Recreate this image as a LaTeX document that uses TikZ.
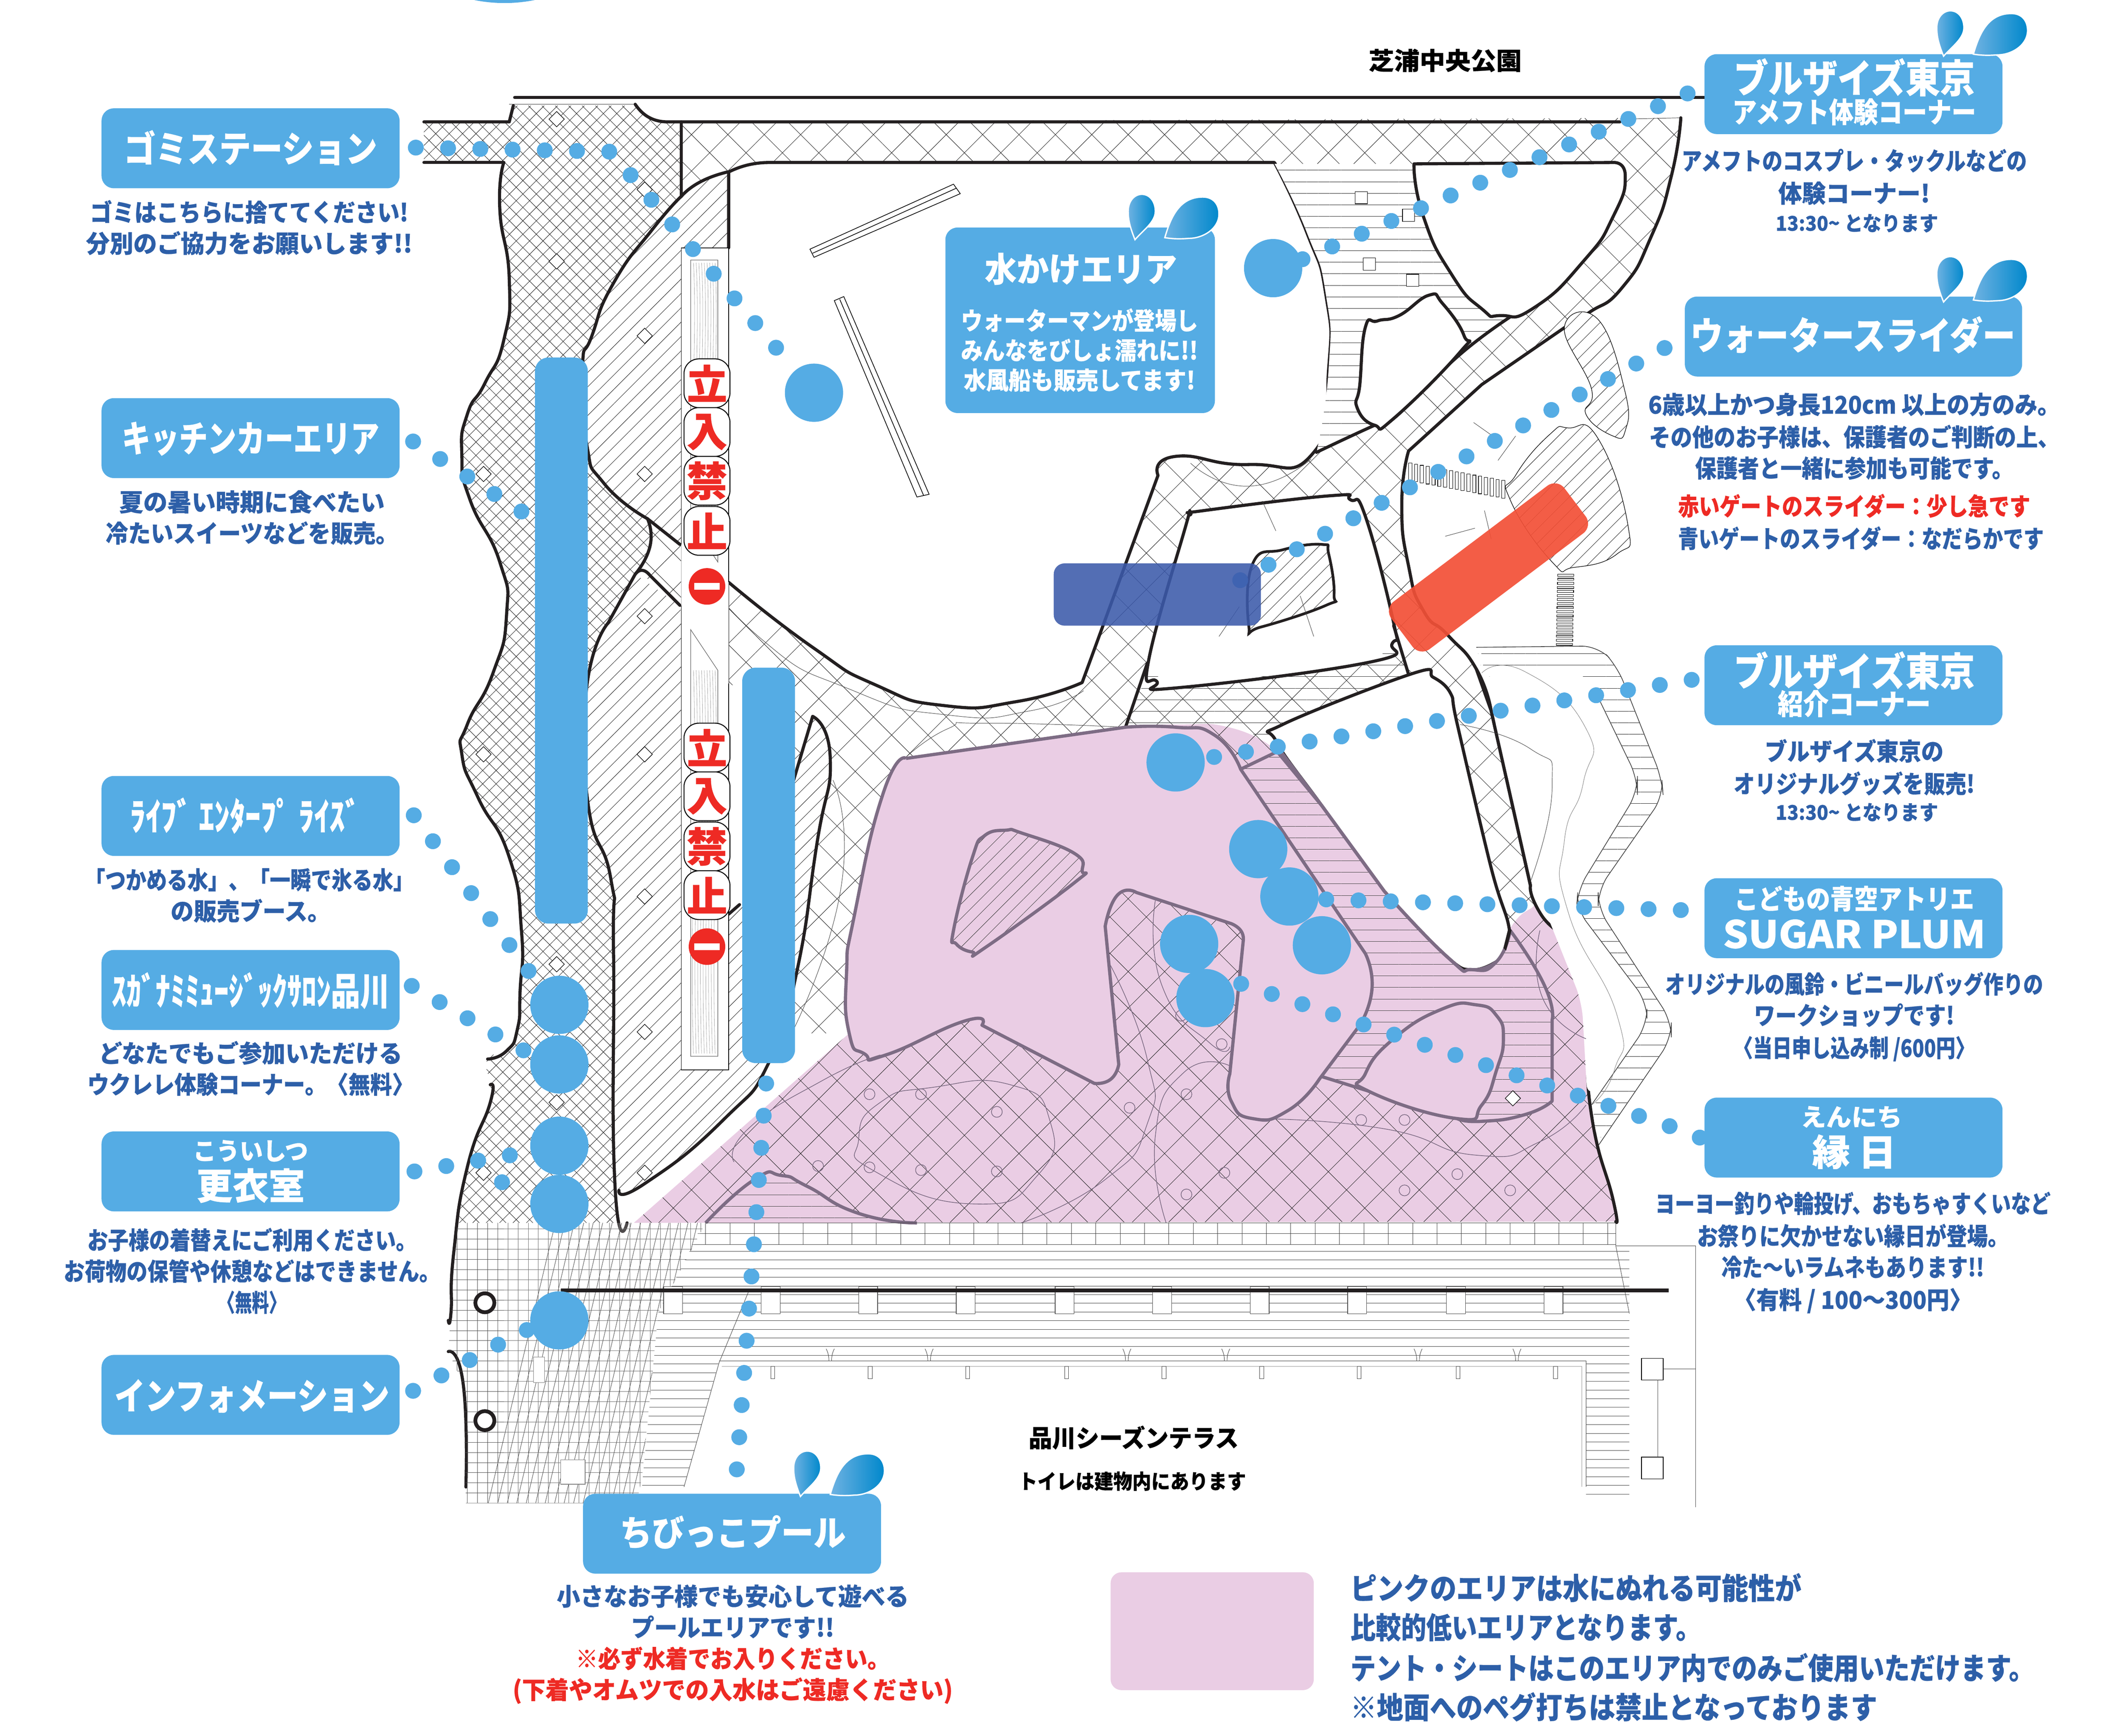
\documentclass[tikz,border=0pt]{standalone}
\usepackage{graphicx}
\usepackage{fontspec}
\setmainfont{Noto Sans CJK JP}[BoldFeatures={FakeBold=0.35}]
\usetikzlibrary{patterns.meta}
\definecolor{lblue}{HTML}{55ACE4}
\definecolor{ink}{HTML}{2D5FA8}
\definecolor{redt}{HTML}{EE2A24}
\definecolor{pinkz}{HTML}{EACDE4}
\definecolor{wallc}{HTML}{231F20}
\definecolor{pgray}{HTML}{7D6C84}
\definecolor{dropl}{HTML}{6FB2E2}
\definecolor{dropr}{HTML}{0088CC}
\newsavebox\tbx
\newcounter{tn}
\newcommand\tx[6][ink]{%
  \stepcounter{tn}%
  \node[inner sep=0,anchor=base,text=#1] (t\thetn) at (#2,{#3+0.36*#5}) {%
    \sbox\tbx{\fontsize{#5}{#5}\bfseries\selectfont #6}%
    \pgfmathsetmacro\myr{#4/\the\wd\tbx}%
    \scalebox{\myr}[1]{\usebox\tbx}};}
\tikzset{
  wall/.style={draw=wallc,line width=2.3pt,line join=round,line cap=round},
  pwall/.style={draw=pgray,line width=2.4pt,line join=round},
  thinl/.style={draw=black!75,line width=.3pt},
  thing/.style={draw=pgray,line width=.5pt},
  hwide/.style={pattern={Hatch[angle=45,distance=19pt,line width=.3pt]},pattern color=black!85},
  hdense/.style={preaction={fill=white},pattern={Hatch[angle=45,distance=7pt,line width=.3pt]},pattern color=black!85},
  hne/.style={preaction={fill=white},pattern={Lines[angle=45,distance=7.5pt,line width=.3pt]},pattern color=black!85},
  hhor/.style={preaction={fill=white},pattern={Lines[angle=0,distance=8.5pt,line width=.3pt]},pattern color=black!85},
  hhorp/.style={preaction={fill=pinkz},pattern={Lines[angle=0,distance=8.5pt,line width=.3pt]},pattern color=black!75},
  hnep/.style={preaction={fill=pinkz},pattern={Lines[angle=45,distance=7.5pt,line width=.3pt]},pattern color=black!75},
  lab/.style={fill=lblue,rounded corners=9pt,minimum width=220pt,minimum height=59pt,inner sep=0},
  bigc/.style={circle,fill=lblue,minimum size=43pt,inner sep=0},
  dotline/.style={draw=lblue,line width=11.7pt,line cap=round,dash pattern=on 0.01pt off 23.8pt},
  dia/.style={draw=black,fill=white,line width=.4pt,rotate=45,minimum size=8pt,inner sep=0},
  sq/.style={draw=black,fill=white,line width=.4pt,minimum size=9pt,inner sep=0},
  ring/.style={circle,draw=pgray,line width=.5pt,minimum size=8pt,inner sep=0},
  kbox/.style={draw=black,fill=white,line width=.7pt,rounded corners=11pt,minimum width=34pt,minimum height=36pt,inner sep=0,text=redt,font=\fontsize{30}{30}\bfseries\selectfont},
  noent/.style={circle,fill=redt,minimum size=27pt,inner sep=0},
  nobar/.style={fill=white,minimum width=19pt,minimum height=5pt,inner sep=0},
  drops/.pic={
    \path[left color=dropl,right color=dropr,draw=white,line width=1pt] (0,0) .. controls (-4,-10) and (-5,-15) .. (-5,-21) .. controls (-5,-29) and (0,-33.5) .. (5,-33.5) .. controls (11,-33.5) and (15,-28) .. (15,-21) .. controls (15,-13) and (6,-7) .. (0,0) -- cycle;
    \path[left color=dropl,right color=dropr,draw=white,line width=1pt] (22,-1.5) .. controls (26,-15) and (32,-31.5) .. (50,-31.5) .. controls (58,-31.5) and (62,-26) .. (62,-19) .. controls (62,-8) and (50,-1) .. (40,-1) .. controls (34,-.5) and (28,-.5) .. (22,-1.5) -- cycle;
  }
}
\begin{document}
\begin{tikzpicture}[x=1pt,y=-1pt]
\useasboundingbox (0,0) rectangle (1567.5,1281.7);
\fill[white] (0,0) rectangle (1567.5,1281.7);
\fill[lblue] (350,0) .. controls (365,3) and (380,3) .. (395,0) -- cycle;

% pink zone
\fill[pinkz] (468,903) -- (627,763) -- plot[smooth,tension=1] coordinates {(627,763)(625,719)(631,675)(652,586)(669,560)} -- (831,537) -- plot[smooth,tension=1] coordinates {(831,537)(868,535)(911,538)(943,555)} -- (976,595) -- (1022,658) -- plot[smooth,tension=1] coordinates {(1022,658)(1069,707)(1087,716)(1105,710)(1114,687)(1130,671)(1137,674)(1162,707)(1171,757)(1175,823)(1191,886)(1193,902)} -- cycle;

% wide hatched road
\path[hwide] (503,90) -- (1241,87) -- plot[smooth,tension=1] coordinates {(1241,87)(1234,130)(1219,175)(1198,212)(1173,231)(1155,242)} -- (1094,284) -- (1040,333) -- plot[smooth,tension=1] coordinates {(1040,333)(1035,372)(1040,418)(1051,451)(1069,469)(1090,494)(1101,525)} -- (1130,654) -- plot[smooth,tension=1] coordinates {(1130,654)(1137,674)(1162,707)(1171,757)(1175,823)(1191,886)(1193,902)} -- (468,903) -- (627,763) -- (586,763) -- (586,520) -- (538,505) -- (538,447) -- (502,447) -- (474,424) -- (469,424) -- (480,403) -- (478,383) -- (502,402) -- cycle;

% thin curves in the road
\draw[thinl] plot[smooth,tension=1] coordinates {(503,402)(560,470)(630,510)(700,528)(760,525)(800,510)};
\draw[thinl] plot[smooth,tension=1] coordinates {(879,342)(922,359)(968,339)};
\draw[thinl] plot[smooth,tension=1] coordinates {(669,559)(700,538)(727,534)(831,537)};
\draw[thinl] plot[smooth,tension=1] coordinates {(615,576)(621,655)(586,760)};

% dense left band
\path[hdense] (313,90) -- (376,90) -- (379,78) -- (469,78) .. controls (475,86) and (483,90) .. (493,90) -- (503,90) -- (503,145) -- plot[smooth,tension=1] coordinates {(503,145)(482,169)(453,209)(437,248)(430,272)(433,327)(446,357)(478,383)} -- plot[smooth,tension=1] coordinates {(478,383)(480,403)(469,424)} -- (449,460) -- plot[smooth,tension=1] coordinates {(449,460)(433,509)(434,592)(451,649)(453,703)(454,874)(463,903)} -- (338,903) -- plot[smooth,tension=1] coordinates {(338,903)(345,862)(362,814)(362,801)(360,782)(374,776)(382,760)(384,732)(385,687)(376,633)(353,589)(341,557)(345,535)(364,497)(374,454)(369,415)(347,369)(341,336)(345,306)(358,283)(372,251)(376,206)(369,154)(372,120)} -- (313,120) -- cycle;

% diagonal hatched region upper
\path[hne] (503,145) .. controls (512,135) and (525,130) .. (537,127) -- (538,183) -- (503,183) -- (503,402) -- (478,383) -- plot[smooth,tension=1] coordinates {(478,383)(446,357)(433,327)(430,272)(437,248)(453,209)(482,169)(503,145)} -- cycle;
% diagonal hatched region lower
\path[hne] (469,424) -- (502,447) -- (538,675) -- (546,668) -- (560,640) -- (586,576) -- (600,529) -- plot[smooth,tension=1] coordinates {(600,529)(613,560)(603,624)(588,719)(569,782)(534,827)(476,874)(457,879)} -- (454,874) -- plot[smooth,tension=1] coordinates {(454,874)(453,703)(451,649)(434,592)(433,509)(449,460)} -- cycle;

% upper garden
\path[fill=white,wall] (538,183) -- (538,127) .. controls (548,122) and (558,120) .. (568,120) -- (941,120) -- plot[smooth,tension=1] coordinates {(941,120)(965,172)(979,218)(981,272)(970,334)(922,343)(868,337)(855,351)} -- (799,504) -- plot[smooth,tension=1] coordinates {(799,504)(751,518)(697,521)(647,506)(600,478)(538,430)};

% horizontally hatched upper region
\path[hhor] (941,121) -- (1044,121) -- plot[smooth,tension=1] coordinates {(1044,121)(1051,160)(1072,203)(1094,228)(1119,233)} -- (1126,227) -- (1080,260) -- (1029,309) -- (1015,314) -- (972,334) -- plot[smooth,tension=1] coordinates {(972,334)(981,272)(979,218)(965,172)(941,121)} -- cycle;
\draw[wall] plot[smooth,tension=.8] coordinates {(1126,227)(1080,260)(1029,309)(1015,314)(972,334)};
% squares
\foreach \p [count=\i] in {{1005,146},{1040,159},{1011,195},{1043,207}} \node[sq] (s\i) at (\p) {};
% island
\path[fill=white,wall] plot[smooth cycle,tension=.85] coordinates {(1008,242)(1017,237)(1033,233)(1055,218)(1065,224)(1081,248)(1078,260)(1029,309)(1015,314)(1002,301)(1004,284)};
% upper right island
\path[fill=white,wall] (1044,121) -- (1191,120) -- plot[smooth,tension=1] coordinates {(1191,120)(1200,130)(1191,160)(1169,193)(1133,227)(1108,233)(1094,228)(1072,203)(1051,160)(1044,121)} -- cycle;

% top lines
\draw[wall] (380,72) -- (1259,72);
\draw[thinl] (376,77) -- (469,77);
\draw[wall] (469,77) .. controls (475,86) and (483,90) .. (493,90) -- (1196,90);
\draw[thinl] (1196,88) -- (1241,87);
\draw[wall] (313,90) -- (376,90) -- (379,78);
\draw[wall] (313,120) -- (372,120);
\draw[wall] (503,90) -- (503,145);
% left outer wall
\draw[wall] plot[smooth,tension=1] coordinates {(372,120)(369,154)(376,206)(372,251)(358,283)(345,306)(341,336)(347,369)(369,415)(374,454)(364,497)(345,535)(341,557)(353,589)(376,633)(385,687)(384,732)(382,760)(374,776)(360,782)};
\draw[wall] plot[smooth,tension=1] coordinates {(362,801)(362,814)(345,862)(335,925)(333,969)(331,975)};
\draw[wall] plot[smooth,tension=1] coordinates {(331,998)(342,1022)(344,1098)};
% inner band wall
\draw[wall] plot[smooth,tension=1] coordinates {(503,145)(482,169)(453,209)(437,248)(430,272)(433,327)(446,357)(478,383)} -- (502,402);
\draw[wall] plot[smooth,tension=1] coordinates {(478,383)(480,403)(469,424)} -- (449,460);
\draw[wall] plot[smooth,tension=1] coordinates {(449,460)(433,509)(434,592)(451,649)(453,703)(454,874)(463,903)};
\draw[wall] (469,424) .. controls (472,420) and (476,420) .. (480,425) -- (502,447);
\draw[wall] (503,145) .. controls (512,135) and (525,130) .. (537,127);
\draw[wall] plot[smooth,tension=1] coordinates {(457,879)(476,874)(534,827)(569,782)(588,719)(603,624)(613,560)(600,529)};
\draw[wall] (600,529) -- (586,576);
\draw[wall] (538,675) -- (546,668);

% road right wall upper
\draw[wall] plot[smooth,tension=1] coordinates {(1241,87)(1234,130)(1219,175)(1198,212)(1173,231)(1155,242)} -- (1094,284) -- (1040,333) -- plot[smooth,tension=1] coordinates {(1040,333)(1035,372)(1040,418)(1051,451)(1069,469)(1090,494)(1101,525)} -- (1130,654) -- plot[smooth,tension=1] coordinates {(1130,654)(1137,674)(1162,707)(1171,757)(1175,823)(1191,886)(1193,902)};

% right hatched wavy band
\path[hhor,rounded corners=12pt] (1090,478) -- (1180,477) -- (1194,492) -- (1227,575) -- (1228,588) -- (1180,657) -- (1180,671) -- (1234,754) -- (1234,767) -- (1180,846) -- (1175,816) -- (1216,757) -- (1216,740) -- (1164,671) -- (1165,657) -- (1209,585) -- (1209,575) -- (1180,515) -- (1171,497) -- (1126,492) -- (1100,500) -- (1094,492) -- cycle;
\draw[thinl,line width=.5pt,rounded corners=12pt] (1090,478) -- (1180,477) -- (1194,492) -- (1227,575) -- (1228,588) -- (1180,657) -- (1180,671) -- (1234,754) -- (1234,767) -- (1180,846);
\draw[thinl,line width=.5pt,rounded corners=12pt] (1180,515) -- (1209,575) -- (1209,585) -- (1165,657) -- (1164,671) -- (1216,740) -- (1216,757) -- (1175,816);
\fill[white,rounded corners=12pt] (1101,530) -- (1178,500) -- (1178,515) -- (1207,575) -- (1207,585) -- (1163,657) -- (1162,671) -- (1214,740) -- (1214,757) -- (1172,812) -- (1168,740) -- (1140,670) -- cycle;
\draw[wall] (1090,494) -- (1101,525) -- (1130,654);
\draw[thinl] plot[smooth,tension=1] coordinates {(1078,535)(1130,553)(1146,581)(1130,651)};
\draw[thinl,black!50] plot[smooth,tension=1] coordinates {(1094,497)(1126,496)(1171,538)(1169,578)(1155,621)(1158,674)(1194,750)(1192,790)(1175,816)};

% slider shape and round structure
\path[hne,draw=black,line width=.4pt] plot[smooth cycle,tension=.8] coordinates {(1155,242)(1180,236)(1200,290)(1200,318)(1191,322)(1171,306)(1175,287)};
\path[hne,draw=black,line width=.4pt] plot[smooth cycle,tension=.9] coordinates {(1158,316)(1180,324)(1202,388)(1194,409)(1162,419)(1146,415)(1115,369)(1119,351)(1144,321)};
% ladders
\foreach \i in {0,...,16} \draw[black,line width=.35pt,fill=white] ({1040+\i*4.3},{342+\i*.8}) rectangle ++(2.4,13);
\foreach \i in {0,...,8} \draw[black,line width=.35pt,fill=white] ({954+\i*.8},{372+\i*3.2}) rectangle ++(12,1.8);
\foreach \i in {0,...,17} \draw[black,line width=.35pt,fill=white] ({1150-\i*.05},{424+\i*3}) rectangle ++(12,1.5);
\draw[thinl] (1088,312) -- (1105,324) (1119,322) -- (1106,340) (1067,396) -- (1089,390) (1096,377) -- (1101,398);

% island 2
\path[fill=white,wall] plot[smooth cycle,tension=.8] coordinates {(879,380)(889,377)(983,366)(997,369)(1008,381)(1029,460)(1028,475)(1011,489)(868,508)(854,503)(848,488)(875,390)};
\draw[wall] (1029,462) -- (1040,498);
\path[hne,draw=wallc,line width=2pt] plot[smooth cycle,tension=.8] coordinates {(925,416)(947,406)(976,402)(981,409)(985,439)(979,447)(931,463)(922,462)};
\draw[wall] (847,490) -- (831,537);
\draw[thinl] (932,370) -- (942,392) (900,470) -- (915,448) (970,470) -- (960,440);

% horizontal hatched area above the triangle
\path[pattern={Lines[angle=0,distance=8.5pt,line width=.3pt]},pattern color=black!80] (848,495) -- (868,508) -- (1011,489) -- (1028,478) -- (1040,497) -- (947,535) -- (942,547) -- (911,538) -- (868,535) -- (831,537) -- cycle;

% white triangle island
\path[fill=white,wall] plot[smooth cycle,tension=.65] coordinates {(942,547)(947,535)(1044,497)(1058,500)(1071,512)(1076,535)(1101,641)(1114,684)(1112,701)(1105,710)(1087,716)(1069,707)(1022,658)(976,595)};

% pink hatched P2
\path[hhorp,pwall] (916,568) -- (943,555) -- (976,595) -- (1022,658) -- plot[smooth,tension=1] coordinates {(1022,658)(1069,707)(1087,716)(1105,710)(1115,687)} -- plot[smooth,tension=1] coordinates {(1115,687)(1140,727)(1146,753)} -- (1146,813) -- plot[smooth,tension=1] coordinates {(1146,813)(1126,823)(1094,828)(1076,826)} -- (976,795) -- cycle;
\node[dia] (d20) at (1117,811) {};
\fill[wallc] (1114,684) -- (1116,687) -- (1112,702) -- (1110,700) -- cycle;
% P3
\path[fill=pinkz,pwall] plot[smooth cycle,tension=.9] coordinates {(1008,793)(1029,767)(1065,745)(1090,742)(1105,750)(1110,767)(1105,790)(1094,816)(1076,826)(1011,806)};
% P1 main pink
\path[fill=pinkz,pwall] (669,560) -- (831,537) -- plot[smooth,tension=1] coordinates {(831,537)(868,537)(897,543)(916,568)} -- (1008,704) -- plot[smooth,tension=1] coordinates {(1008,704)(1013,730)(1004,757)} -- (974,797) -- plot[smooth,tension=1] coordinates {(974,797)(951,820)(925,826)(909,813)(908,793)} -- (918,694) -- plot[smooth,tension=1] coordinates {(918,694)(916,687)(909,682)} -- (839,659) -- plot[smooth,tension=1] coordinates {(839,659)(825,661)(816,684)} -- (826,786) -- plot[smooth,tension=1] coordinates {(826,786)(820,797)(808,800)} -- (725,757) -- plot[smooth,tension=1] coordinates {(725,757)(712,754)(654,779)(638,778)(627,763)(625,719)(631,675)(652,586)(669,560)};
% pink triangle hatched
\path[hnep,pwall] plot[smooth cycle,tension=.8] coordinates {(718,633)(727,617)(743,613)(754,615)(793,630)(799,643)(793,652)(727,700)(718,703)(706,697)(704,687)};
% P5 dark curve
\path[hhorp] plot[smooth,tension=1] coordinates {(521,903)(557,871)(577,868)(596,876)(634,896)(677,903)} -- cycle;
\draw[pwall] plot[smooth,tension=1] coordinates {(521,903)(557,871)(577,868)(596,876)(634,896)(677,903)};
% curves in the pink
\draw[thing] plot[smooth cycle,tension=1] coordinates {(634,841)(650,814)(688,803)(746,801)(775,827)(766,868)(719,889)(646,865)};
\draw[thing] plot[smooth,tension=1] coordinates {(542,858)(553,833)(607,798)(650,779)};
\draw[thing] plot[smooth,tension=1] coordinates {(820,713)(847,782)(847,830)(816,871)(754,903)};
\draw[thing] plot[smooth,tension=1] coordinates {(853,665)(858,728)(893,770)(908,773)};
\draw[thing] plot[smooth,tension=1] coordinates {(861,903)(853,839)(874,792)(908,787)};
\draw[thing] plot[smooth,tension=1] coordinates {(922,826)(1019,833)(1090,853)(1137,843)(1171,816)};
\draw[thing] plot[smooth,tension=1] coordinates {(1137,687)(1139,737)(1171,767)};
\foreach \p [count=\i] in {{642,808},{680,808},{736,821},{604,861},{642,862},{680,864},{736,865},{834,818},{876,808},{876,882},{904,866},{902,771},{872,750},{1005,827},{1037,827},{1037,879},{1076,867},{1115,879}} \node[ring] (r\i) at (\p) {};
\draw[pwall] (942,550) -- (976,595) -- (1022,658) -- plot[smooth,tension=1] coordinates {(1022,658)(1069,707)(1087,716)(1105,710)};

% diamonds
\foreach \p [count=\i] in {{411,88},{476,140},{411,193},{476,248},{357,350},{476,350},{476,455},{357,557},{476,557},{476,662},{411,712},{476,762},{411,814},{357,866},{476,866}} \node[dia] (d\i) at (\p) {};

% planks
\draw[black,line width=.5pt,fill=white] (598,184) -- (704,136) -- (709,143) -- (601,190) -- cycle;
\draw[black,line width=.5pt] (600,187) -- (706,139);
\draw[black,line width=.5pt,fill=white] (616,222) -- (623,219) -- (686,365) -- (677,367) -- cycle;
\draw[black,line width=.5pt] (620,221) -- (682,366);

% lower deck
\foreach \x in {521,539,...,1190} \draw[thinl] (\x,903) -- (\x,919);
\draw[thinl] (521,903) -- (1193,903) (515,911) -- (1193,911) (511,919) -- (1193,919);
\begin{scope}
\clip (511,920) -- (1203,920) -- (1203,1107) -- (1171,1107) -- (1171,1005) -- (531,1005) -- (505,1098) -- (474,1098) -- (486,969) -- cycle;
\foreach \y in {0,...,29} \draw[thinl] (470,{924+\y*6.4}) -- (1210,{924+\y*6.4});
\end{scope}
\draw[thinl] (553,953) -- (531,1006) -- (505,1098);
\draw[thinl] (531,1005) -- (1171,1005) -- (1171,1098);
\draw[thinl,black!40] (533,1009) -- (1168,1009) -- (1168,1098);
\foreach \x in {613,686,832,905,1047,1120} \draw[thinl] (\x-3,996) .. controls (\x-1,1000) and (\x-1,1003) .. (\x-1,1005) (\x+3,996) .. controls (\x+1,1000) and (\x+1,1003) .. (\x+1,1005);
\foreach \x in {569,641,713,786,858,930,1002,1075,1147} \draw[thinl] (\x,1009) rectangle ++(3,9);
% tile zone
\begin{scope}
\clip (338,903) -- (335,925) -- (333,969) -- (331,998) -- (342,1022) -- (344,1110) -- (470,1110) -- (474,1091) -- (486,969) -- (521,903) -- cycle;
\draw[black!70,line width=.3pt,step=7.5pt] (330,900) grid (525,1112);
\fill[white,opacity=.2] (372,903) rectangle (525,1112);
\foreach \i in {0,...,30} \draw[black!70,line width=.3pt] ({360+\i*7},1112) -- ({360+\i*7+50},903);
\end{scope}
\draw[black!50,line width=.4pt,fill=white] (394,1002) rectangle (402,1021);
\draw[black!50,line width=.4pt,fill=white] (414,1078) rectangle (432,1096);
% right structures
\draw[thinl] (1193,903) -- (1193,920) -- (1252,920) -- (1252,1113);
\draw[thinl] (1193,920) -- (1203,970);
\draw[black,line width=.5pt,fill=white] (1212,1003) rectangle (1228,1019);
\draw[black,line width=.5pt,fill=white] (1212,1076) rectangle (1228,1092);
\draw[thinl] (1224,1019) -- (1224,1076) (1228,1011) -- (1252,1011);
% main black beam and columns
\foreach \x in {497,569,641,713,786,858,930,1002,1075,1147} \draw[black!70,line width=.4pt,fill=white] ({\x-7},950) rectangle ({\x+7},970);
\draw[wallc,line width=2.8pt] (414,953) -- (1232,953);
\node[circle,draw=wallc,line width=2.8pt,minimum size=14pt,inner sep=0,fill=white] (ring1) at (358,962) {};
\node[circle,draw=wallc,line width=2.8pt,minimum size=14pt,inner sep=0,fill=white] (ring2) at (358,1049) {};

% strip
\draw[black,line width=.5pt,fill=white] (503,183) rectangle (538,790);
\fill[white] (503,402) -- (538,430) -- (538,505) -- (503,447) -- cycle;
\draw[black!60,line width=.4pt] (510,192) -- (530,192) -- (530,415) -- (510,385) -- cycle;
\draw[black!60,line width=.4pt] (510,465) -- (530,495) -- (530,780) -- (510,780) -- cycle;
\foreach \x in {512,514,516,518,520,522,524,526,528} {
  \draw[black!35,line width=.25pt] (\x,194) .. controls (\x+3,250) and (\x-3,320) .. (\x,384);
  \draw[black!35,line width=.25pt] (\x,495) .. controls (\x+3,580) and (\x-3,680) .. (\x,778);
}

% named endpoints for connectors
\node[bigc] (cA) at (601,290) {};
\node[bigc] (cB) at (940,198) {};
\node[bigc] (cC) at (868,563) {};
\node[bigc] (cD) at (929,627) {};
\node[bigc] (cE) at (952,662) {};
\node[bigc] (cF) at (976,698) {};
\node[bigc] (cG) at (878,697) {};
\node[bigc] (cH) at (890,737) {};
\node[bigc] (cI) at (413,742) {};
\node[bigc] (cJ) at (413,786) {};
\node[bigc] (cK) at (413,846) {};
\node[bigc] (cL) at (413,889) {};
\node[bigc] (cM) at (413,975) {};

% label boxes
\node[lab] (l1) at (185,109.5) {};
\node[lab] (l2) at (185,323.5) {};
\node[lab] (l3) at (185,602.5) {};
\node[lab] (l4) at (185,731) {};
\node[lab] (l5) at (185,865) {};
\node[lab] (l6) at (185,1030) {};
\node[lab] (l7) at (1368.5,69.5) {};
\node[lab,minimum width=249pt] (l8) at (1368.5,248.5) {};
\node[lab] (l9) at (1368.5,506) {};
\node[lab] (l10) at (1368.5,678) {};
\node[lab] (l11) at (1368.5,840) {};
\node[lab] (l12) at (540.5,1132.5) {};
\node[lab,minimum width=199pt,minimum height=137pt] (l13) at (797.5,236.5) {};

% connectors made of dots
\draw[dotline] (307,109) -- (451,112) -- (cA);
\draw[dotline] (305,326) -- (387,379) -- (408,392);
\draw[dotline] (305.5,602) -- (391,718) -- (cI);
\draw[dotline] (304,728) -- (385,775) -- (cJ);
\draw[dotline] (306,865) -- (377,853) -- (cK);
\draw[dotline] (353,857) -- (385,886);
\draw[dotline] (305,1027) -- (386,983) -- (cM);
\draw[dotline] (1246,69) -- (958,193);
\draw[dotline] (1229,257) -- (911,431);
\draw[dotline] (1249,502) -- (890,560);
\draw[dotline] (1241,672) -- (975,664);
\draw[dotline] (1255,840) -- (1234,832) -- (912,725);
\draw[dotline] (544,1085) -- (566,796) -- (568,780);

% bars and coloured zones
\fill[lblue,rounded corners=10pt] (395,264) rectangle (434,682);
\fill[lblue,rounded corners=10pt] (548,493) rectangle (587,785);
\node[fill={rgb,255:red,60;green,90;blue,170},opacity=.88,rounded corners=8pt,minimum width=153pt,minimum height=46pt,inner sep=0] (darkr) at (854.5,439) {};
\node[fill={rgb,255:red,242;green,80;blue,55},opacity=.92,rounded corners=9pt,minimum width=160pt,minimum height=44pt,inner sep=0,rotate=37] (redr) at (1099,419) {};

% no-entry signs and characters
\foreach \p/\c [count=\i] in {283/立,319/入,355/禁,392/止,552/立,588/入,625/禁,661/止} \node[kbox] (k\i) at (522,\p) {\c};
\node[noent] (n1) at (522,433) {}; \node[nobar] (n1b) at (n1) {};
\node[noent] (n2) at (522,699) {}; \node[nobar] (n2b) at (n2) {};

% drops
\pic (dr1) at (1435,41.5) {drops};
\pic (dr2) at (1435,223) {drops};
\pic (dr3) at (838,177) {drops};
\pic (dr4) at (591,1105) {drops};

% texts: black
\tx[black]{1067}{45}{113}{18}{芝浦中央公園}
\tx[black]{837}{1062}{155}{18}{品川シーズンテラス}
\tx[black]{836}{1094}{168}{15}{トイレは建物内にあります}

% left texts
\tx[white]{185}{110}{187}{27}{ゴミステーション}
\tx{184}{157}{235}{18}{ゴミはこちらに捨ててください!}
\tx{184}{180}{241}{18}{分別のご協力をお願いします!!}
\tx[white]{185}{324}{190}{27}{キッチンカーエリア}
\tx{186}{371}{196}{18}{夏の暑い時期に食べたい}
\tx{186}{394}{216}{18}{冷たいスイーツなどを販売。}
\tx[white]{181}{603}{170}{28}{ﾗｲﾌﾞ ｴﾝﾀｰﾌﾟ ﾗｲｽﾞ}
\tx{184}{650}{243}{18}{「つかめる水」、「一瞬で氷る水」}
\tx{185}{673}{118}{18}{の販売ブース。}
\tx[white]{185}{732}{205}{28}{ｽｶﾞﾅﾐﾐｭｰｼﾞｯｸｻﾛﾝ品川}
\tx{185}{778}{224}{18}{どなたでもご参加いただける}
\tx{185}{801}{241}{18}{ウクレレ体験コーナー。〈無料〉}
\tx[white]{185}{850}{85}{18}{こういしつ}
\tx[white]{185}{876}{80}{27}{更衣室}
\tx{186}{916}{243}{18}{お子様の着替えにご利用ください。}
\tx{186}{939}{278}{18}{お荷物の保管や休憩などはできません。}
\tx{186}{962}{50}{18}{〈無料〉}
\tx[white]{186}{1031}{203}{27}{インフォメーション}

% right texts
\tx[white]{1369}{58}{178}{29}{ブルザイズ東京}
\tx[white]{1369}{83}{180}{21}{アメフト体験コーナー}
\tx{1369}{119}{255}{18}{アメフトのコスプレ・タックルなどの}
\tx{1369}{143}{112}{18}{体験コーナー!}
\tx{1371}{165}{120}{15}{13:30\textasciitilde{} となります}
\tx[white]{1368}{248}{240}{28}{ウォータースライダー}
\tx{1369}{299}{304}{18}{6歳以上かつ身長120cm 以上の方のみ。}
\tx{1369}{323}{303}{18}{その他のお子様は、保護者のご判断の上、}
\tx{1369}{346}{235}{18}{保護者と一緒に参加も可能です。}
\tx[redt]{1369}{374}{260}{18}{赤いゲートのスライダー：少し急です}
\tx{1374}{398}{270}{18}{青いゲートのスライダー：なだらかです}
\tx[white]{1369}{496}{178}{29}{ブルザイズ東京}
\tx[white]{1369}{520}{113}{21}{紹介コーナー}
\tx{1369}{555}{132}{18}{ブルザイズ東京の}
\tx{1369}{579}{178}{18}{オリジナルグッズを販売!}
\tx{1371}{600}{120}{15}{13:30\textasciitilde{} となります}
\tx[white]{1369}{664}{177}{20}{こどもの青空アトリエ}
\tx[white]{1369}{690}{194}{28}{SUGAR PLUM}
\tx{1369}{727}{279}{18}{オリジナルの風鈴・ビニールバッグ作りの}
\tx{1369}{750}{148}{18}{ワークショップです!}
\tx{1369}{774}{178}{18}{〈当日申し込み制 /600円〉}
\tx[white]{1367}{825}{75}{18}{えんにち}
\tx[white]{1369}{851}{62}{27}{縁 日}
\tx{1368}{889}{292}{18}{ヨーヨー釣りや輪投げ、おもちゃすくいなど}
\tx{1368}{913}{230}{18}{お祭りに欠かせない縁日が登場。}
\tx{1368}{936}{194}{18}{冷た〜いラムネもあります!!}
\tx{1368}{960}{176}{18}{〈有料 / 100〜300円〉}

% water area texts
\tx[white]{798}{199}{142}{25}{水かけエリア}
\tx[white]{797}{237}{175}{18}{ウォーターマンが登場し}
\tx[white]{797}{259}{175}{18}{みんなをびしょ濡れに!!}
\tx[white]{797}{281}{171}{18}{水風船も販売してます!}

% pool
\tx[white]{541}{1132}{167}{26}{ちびっこプール}
\tx{541}{1179}{260}{18}{小さなお子様でも安心して遊べる}
\tx{541}{1202}{150}{18}{プールエリアです!!}
\tx[redt]{541}{1225}{232}{18}{※必ず水着でお入りください。}
\tx[redt]{541}{1248}{325}{18}{(下着やオムツでの入水はご遠慮ください)}

% legend
\node[fill=pinkz,rounded corners=8pt,minimum width=150pt,minimum height=87pt,inner sep=0] (leg) at (895,1204.5) {};
\tx{1163.5}{1173}{333}{22}{ピンクのエリアは水にぬれる可能性が}
\tx{1126.5}{1202}{259}{22}{比較的低いエリアとなります。}
\tx{1249.5}{1232}{505}{22}{テント・シートはこのエリア内でのみご使用いただけます。}
\tx{1191.5}{1261}{389}{22}{※地面へのペグ打ちは禁止となっております}
\end{tikzpicture}
\end{document}
